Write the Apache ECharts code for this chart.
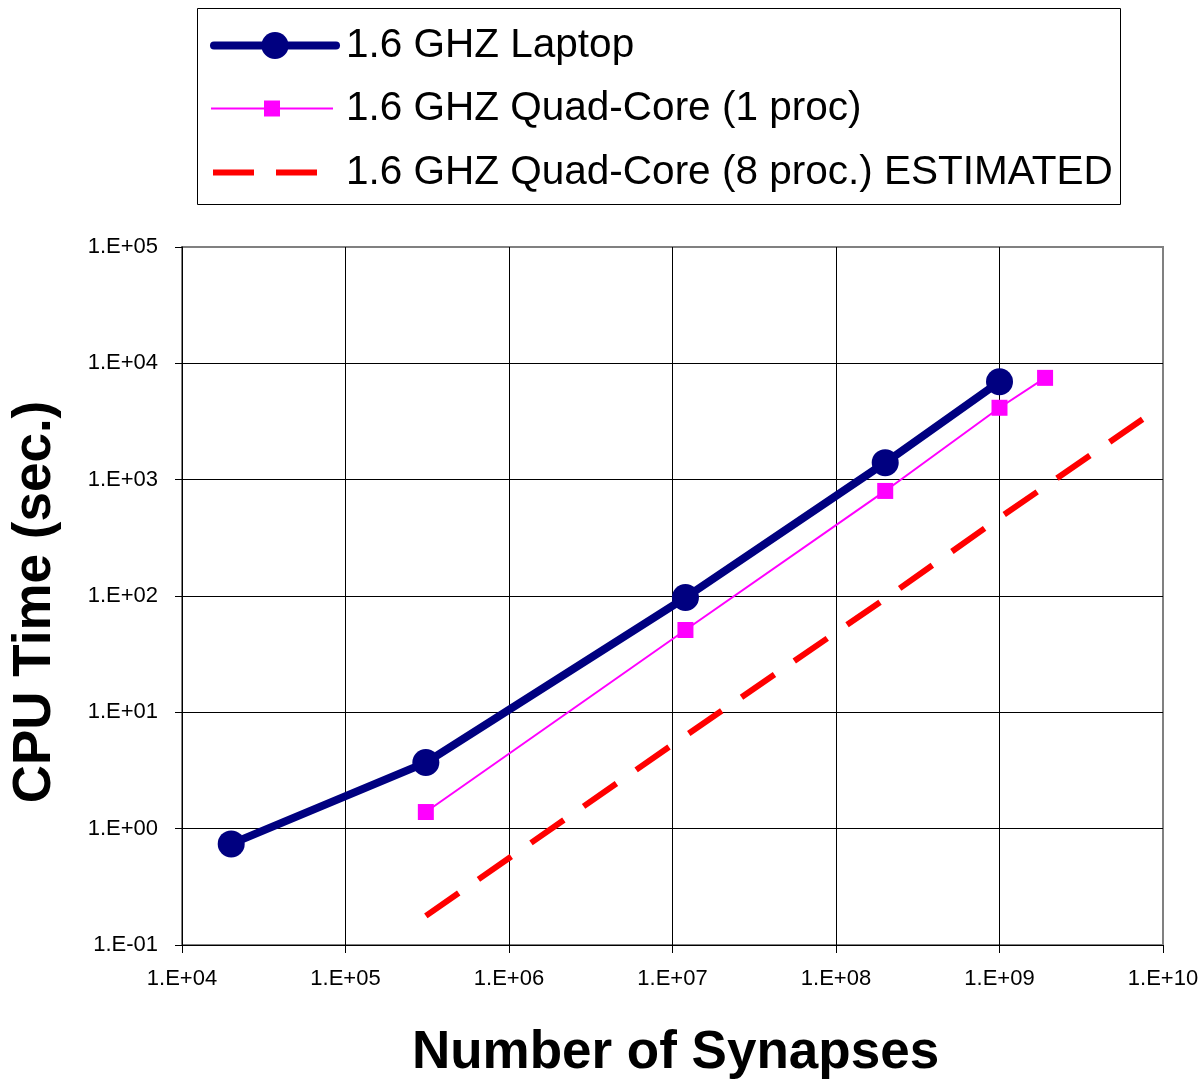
<!DOCTYPE html>
<html>
<head>
<meta charset="utf-8">
<script src="https://cdn.jsdelivr.net/npm/echarts@6/dist/echarts.min.js"></script>
<style>html,body{margin:0;padding:0;background:#fff}#c{width:1200px;height:1082px}</style>
</head>
<body>
<div id="c"></div>
<script>
// ---- data ----
const seriesNames = ['1.6 GHZ Laptop', '1.6 GHZ Quad-Core (1 proc)', '1.6 GHZ Quad-Core (8 proc.) ESTIMATED'];
const laptopX = [2.0e4, 3.1e5, 1.2e7, 2.0e8, 1.0e9];
const laptopY = [0.74, 3.7, 97, 1400, 6950];
const quad1X = [3.1e5, 1.2e7, 2.0e8, 1.0e9, 1.9e9];
const quad1Y = [1.39, 51, 800, 4150, 7500];
const quad8X = [3.1e5, 1.2e7, 2.0e8, 1.0e9, 7.5e9];
const quad8Y = [0.178, 6.3, 95, 470, 3300];
const xTickLabels = ['1.E+04','1.E+05','1.E+06','1.E+07','1.E+08','1.E+09','1.E+10'];
const yTickLabels = ['1.E-01','1.E+00','1.E+01','1.E+02','1.E+03','1.E+04','1.E+05'];
const xTitle = 'Number of Synapses';
const yTitle = 'CPU Time (sec.)';

const pairs = (xs, ys) => xs.map((x, i) => [x, ys[i]]);
const xLabel = v => xTickLabels[Math.round(Math.log10(v)) - 4] || '';
const yLabel = v => yTickLabels[Math.round(Math.log10(v)) + 1] || '';

const FONT = '"Liberation Sans", Arial, sans-serif';
const chart = echarts.init(document.getElementById('c'), null, {renderer: 'canvas'});

const legendText = pad => ({fontFamily: FONT, fontSize: 40.5, color: '#000', lineHeight: 40, padding: [0, 0, 0, pad]});

chart.setOption({
  animation: false,
  backgroundColor: '#fff',
  grid: {left: 182, right: 37, top: 247, bottom: 137, outerBoundsMode: 'none', containLabel: false,
         show: true, borderColor: '#808080', borderWidth: 2, backgroundColor: 'transparent'},
  graphic: [{type: 'rect', left: 197, top: 8, shape: {width: 923, height: 196}, style: {fill: '#fff', stroke: '#000', lineWidth: 1}, z: 0}],
  legend: [
    {data: [seriesNames[0]], left: 210, top: 25, padding: 0, itemWidth: 122, itemHeight: 34, textStyle: legendText(5), selectedMode: false,
     lineStyle: {color: '#000080', width: 8, cap: 'round'}},
    {data: [seriesNames[1]], left: 210, top: 88, padding: 0, itemWidth: 122, itemHeight: 20, textStyle: legendText(8), selectedMode: false,
     lineStyle: {color: '#FF00FF', width: 2}},
    {data: [seriesNames[2]], left: 210, top: 152, padding: 0, itemWidth: 122, itemHeight: 20, textStyle: legendText(6), selectedMode: false,
     itemStyle: {opacity: 0}, lineStyle: {color: '#FF0000', width: 6, type: [41, 22], cap: 'butt'}}
  ],
  xAxis: {
    type: 'log', logBase: 10, min: 1e4, max: 1e10,
    name: xTitle, nameLocation: 'middle', nameGap: 82,
    nameTextStyle: {fontFamily: FONT, fontSize: 53, fontWeight: 'bold', color: '#000', padding: [0, 0, 0, 6]},
    axisLine: {show: true, lineStyle: {color: '#000', width: 1}},
    axisTick: {show: true, length: 8, lineStyle: {color: '#000'}},
    minorTick: {show: false},
    axisLabel: {formatter: xLabel, fontFamily: FONT, fontSize: 22, color: '#000', margin: 23, showMaxLabel: true, showMinLabel: true},
    splitLine: {show: true, showMinLine: false, showMaxLine: false, lineStyle: {color: '#000', width: 1}}
  },
  yAxis: {
    type: 'log', logBase: 10, min: 0.1, max: 1e5,
    name: yTitle, nameLocation: 'middle', nameGap: 120, nameRotate: 90,
    nameTextStyle: {fontFamily: FONT, fontSize: 53, fontWeight: 'bold', color: '#000', padding: [0, 12, 0, 0]},
    axisLine: {show: true, lineStyle: {color: '#000', width: 1}},
    axisTick: {show: true, length: 7, lineStyle: {color: '#000'}},
    axisLabel: {formatter: yLabel, fontFamily: FONT, fontSize: 22, color: '#000', margin: 24},
    splitLine: {show: true, showMinLine: false, showMaxLine: false, lineStyle: {color: '#000', width: 1}}
  },
  series: [
    {name: seriesNames[0], type: 'line', data: pairs(laptopX, laptopY), color: '#000080',
     lineStyle: {color: '#000080', width: 8}, symbol: 'circle', symbolSize: 27,
     itemStyle: {color: '#000080'}, z: 5},
    {name: seriesNames[1], type: 'line', data: pairs(quad1X, quad1Y), color: '#FF00FF',
     lineStyle: {color: '#FF00FF', width: 2}, symbol: 'rect', symbolSize: 16,
     itemStyle: {color: '#FF00FF'}, z: 4},
    {name: seriesNames[2], type: 'line', data: pairs(quad8X, quad8Y), color: '#FF0000',
     lineStyle: {color: '#FF0000', width: 6, type: [40, 24], cap: 'butt'}, symbol: 'none', z: 3}
  ]
});
</script>
</body>
</html>
